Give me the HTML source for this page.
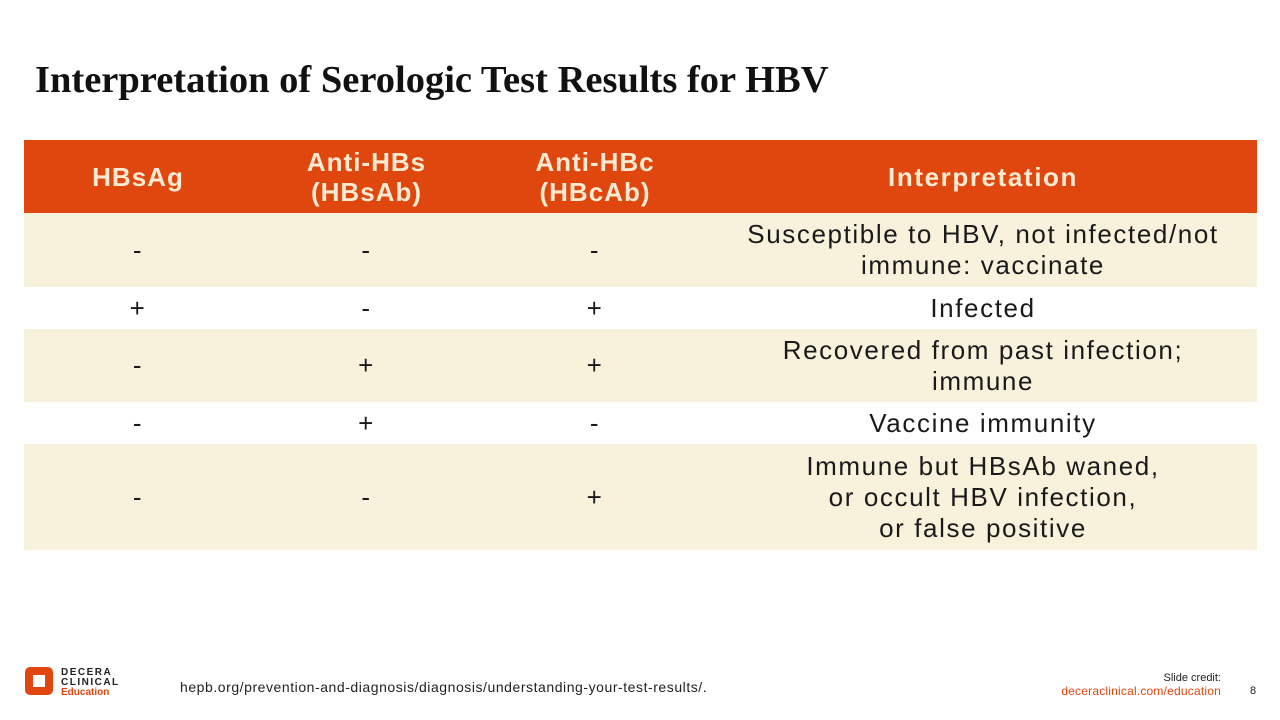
<!DOCTYPE html>
<html><head><style>
body{margin:0;width:1280px;height:720px;background:#fff;position:relative;overflow:hidden;font-family:"Liberation Sans",sans-serif;}
h1{position:absolute;left:35px;top:58px;margin:0;font-family:"Liberation Serif",serif;font-weight:bold;font-size:38.5px;color:#111;white-space:nowrap}
.t{position:absolute;left:24px;top:140px;width:1233px;}
.r{display:flex;align-items:center;}
.r div{text-align:center;font-size:26px;color:#1a1a1a;line-height:31px;letter-spacing:1.6px}
.c1{width:228px}.c2{width:229px}.c3{width:228px}.c4{width:548px}
.h{background:#E0470E;height:73px}
.h div{color:#FCEBD2;font-weight:bold;font-size:26px;line-height:30px;letter-spacing:1px}
.h .c4{letter-spacing:1.6px}
.b{background:#F8F1DC}
.foot{position:absolute;font-size:13px;color:#222}
</style></head><body>
<h1>Interpretation of Serologic Test Results for HBV</h1>
<div class="t">
<div class="r h"><div class="c1">HBsAg</div><div class="c2">Anti-HBs<br>(HBsAb)</div><div class="c3">Anti-HBc<br>(HBcAb)</div><div class="c4">Interpretation</div></div>
<div class="r b" style="height:74px"><div class="c1">-</div><div class="c2">-</div><div class="c3">-</div><div class="c4">Susceptible to HBV, not infected/not<br>immune: vaccinate</div></div>
<div class="r" style="height:42px"><div class="c1">+</div><div class="c2">-</div><div class="c3">+</div><div class="c4">Infected</div></div>
<div class="r b" style="height:73px"><div class="c1">-</div><div class="c2">+</div><div class="c3">+</div><div class="c4">Recovered from past infection;<br>immune</div></div>
<div class="r" style="height:42px"><div class="c1">-</div><div class="c2">+</div><div class="c3">-</div><div class="c4">Vaccine immunity</div></div>
<div class="r b" style="height:106px"><div class="c1">-</div><div class="c2">-</div><div class="c3">+</div><div class="c4">Immune but HBsAb waned,<br>or occult HBV infection,<br>or false positive</div></div>
</div>
<svg style="position:absolute;left:25px;top:667px" width="28" height="28" viewBox="0 0 28 28">
<rect x="0" y="0" width="28" height="28" rx="5" fill="#E0470E"/><rect x="8" y="8" width="12" height="12" fill="#fff"/>
</svg>
<div class="foot" style="left:61px;top:668px;font-size:10px;font-weight:bold;letter-spacing:1.5px;line-height:10px">DECERA<br>CLINICAL<br><span style="color:#E0470E;letter-spacing:0">Education</span></div>
<div class="foot" style="left:180px;top:679px;font-size:14px;letter-spacing:0.55px">hepb.org/prevention-and-diagnosis/diagnosis/understanding-your-test-results/.</div>
<div class="foot" style="left:1040px;top:672px;width:181px;text-align:right;font-size:11px;line-height:13px">Slide credit:<br><span style="color:#E0470E;font-size:12px;letter-spacing:0.2px">deceraclinical.com/education</span></div>
<div class="foot" style="left:1250px;top:685px;font-size:11px">8</div>
</body></html>
